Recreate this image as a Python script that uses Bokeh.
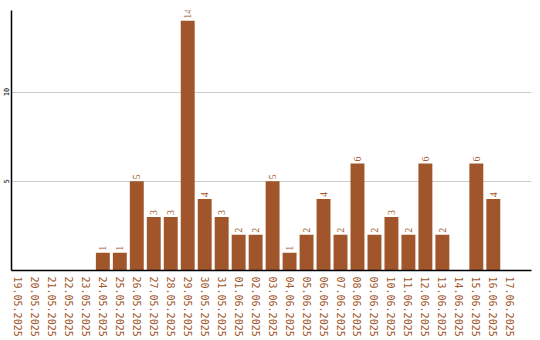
import math
from bokeh.plotting import figure
from bokeh.models import ColumnDataSource, Range1d, FixedTicker, LabelSet
from bokeh.embed import file_html
from bokeh.resources import INLINE

dates = ["19.05.2025", "20.05.2025", "21.05.2025", "22.05.2025", "23.05.2025",
         "24.05.2025", "25.05.2025", "26.05.2025", "27.05.2025", "28.05.2025",
         "29.05.2025", "30.05.2025", "31.05.2025", "01.06.2025", "02.06.2025",
         "03.06.2025", "04.06.2025", "05.06.2025", "06.06.2025", "07.06.2025",
         "08.06.2025", "09.06.2025", "10.06.2025", "11.06.2025", "12.06.2025",
         "13.06.2025", "14.06.2025", "15.06.2025", "16.06.2025", "17.06.2025"]
counts = [0, 0, 0, 0, 0,
          1, 1, 5, 3, 3,
          14, 4, 3, 2, 2,
          5, 1, 2, 4, 2,
          6, 2, 3, 2, 6,
          2, 0, 6, 4, 0]
y_ticks = [5, 10]

BAR = "#A0562A"
FONT = "DejaVu Sans Mono"

xs = list(range(len(dates)))
src = ColumnDataSource(dict(x=xs, top=counts))
lab_x = [i for i, c in zip(xs, counts) if c > 0]
lab_y = [c for c in counts if c > 0]
lab_src = ColumnDataSource(dict(x=lab_x, y=lab_y, t=[str(c) for c in lab_y]))

p = figure(frame_width=520, frame_height=260, output_backend="svg",
           toolbar_location=None, x_range=Range1d(-0.38, 30.25),
           y_range=Range1d(0, 14.57), min_border_left=0, min_border_right=9,
           min_border_top=10, min_border_bottom=0)
p.outline_line_color = None
p.background_fill_color = "white"
p.border_fill_color = "white"

p.vbar(x="x", top="top", width=0.82, source=src, fill_color=BAR, line_color=None)
labels = LabelSet(x="x", y="y", text="t", source=lab_src, angle=math.pi / 2,
                  text_align="left", text_baseline="middle", y_offset=2,
                  text_font=FONT, text_font_size="10px", text_color=BAR)
p.add_layout(labels)

p.xgrid.grid_line_color = None
p.ygrid.grid_line_color = "#cccccc"
p.ygrid.ticker = FixedTicker(ticks=y_ticks)

xa = p.xaxis[0]
xa.ticker = FixedTicker(ticks=xs)
xa.major_label_overrides = {i: d for i, d in enumerate(dates)}
xa.major_label_orientation = "vertical"
xa.major_label_text_font = FONT
xa.major_label_text_font_size = "10px"
xa.major_label_text_color = BAR
xa.major_tick_out = 0
xa.major_tick_in = 0
xa.minor_tick_out = 0
xa.minor_tick_in = 0
xa.major_tick_line_color = None
xa.minor_tick_line_color = None
xa.axis_line_color = "black"
xa.axis_line_width = 1.5
xa.major_label_standoff = 6

ya = p.yaxis[0]
ya.ticker = FixedTicker(ticks=y_ticks)
ya.major_label_orientation = "vertical"
ya.major_label_text_font = FONT
ya.major_label_text_font_size = "7px"
ya.major_label_text_color = "black"
ya.major_tick_out = 0
ya.major_tick_in = 0
ya.minor_tick_out = 0
ya.minor_tick_in = 0
ya.major_tick_line_color = None
ya.minor_tick_line_color = None
ya.axis_line_color = "black"
ya.axis_line_width = 1.5
ya.major_label_standoff = 2

open("out.html", "w").write(file_html(p, INLINE))
